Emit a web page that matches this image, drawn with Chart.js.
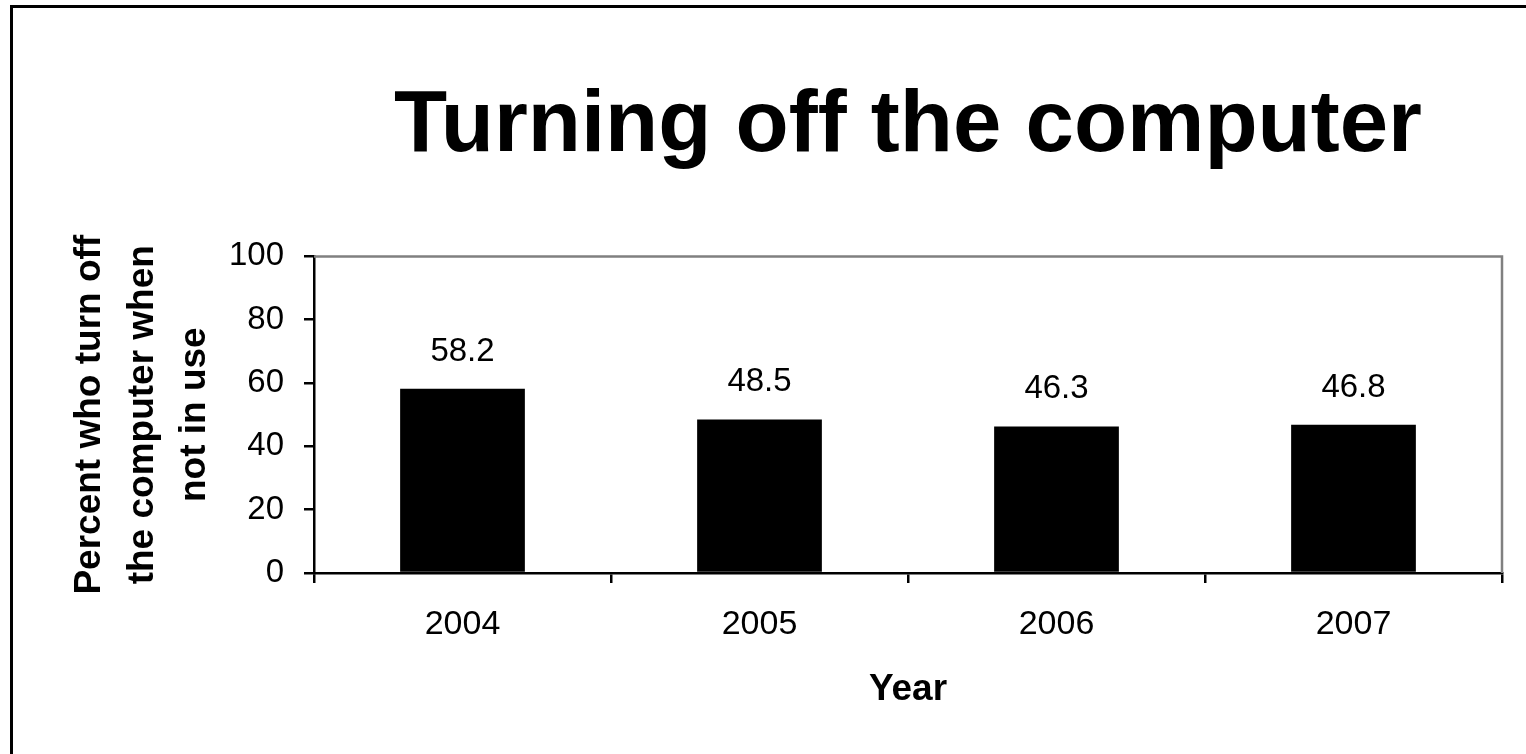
<!DOCTYPE html>
<html>
<head>
<meta charset="utf-8">
<script src="https://cdn.jsdelivr.net/npm/chart.js@4.4.1/dist/chart.umd.min.js"></script>
<style>
  html, body { margin: 0; padding: 0; background: #fff; overflow: hidden; }
  #wrap { position: relative; width: 1526px; height: 754px; overflow: hidden; }
  #frame { position: absolute; left: 10px; top: 5px; width: 1600px; height: 800px;
           border-left: 3px solid #000; border-top: 3px solid #000; pointer-events: none; }
  canvas { position: absolute; left: 0; top: 0; }
</style>
</head>
<body>
<div id="wrap">
  <canvas id="c" width="1526" height="754" style="width:1526px;height:754px"></canvas>
  <div id="frame"></div>
</div>
<script>
const titleText = 'Turning off the computer';
const years = ['2004', '2005', '2006', '2007'];
const percentOff = [58.2, 48.5, 46.3, 46.8];
const yTitleLines = ['Percent who turn off', 'the computer when', 'not in use'];
const xTitleText = 'Year';

const FONT = '"Liberation Sans", Arial, Helvetica, sans-serif';

const plotFrame = {
  id: 'plotFrame',
  afterDraw(chart) {
    const {ctx, chartArea: a} = chart;
    ctx.save();
    ctx.strokeStyle = '#808080';
    ctx.lineWidth = 2.5;
    ctx.beginPath();
    ctx.moveTo(a.left, a.top);
    ctx.lineTo(a.right, a.top);
    ctx.lineTo(a.right, a.bottom);
    ctx.stroke();
    ctx.restore();
  }
};

const valueLabels = {
  id: 'valueLabels',
  afterDatasetsDraw(chart) {
    const {ctx} = chart;
    const meta = chart.getDatasetMeta(0);
    ctx.save();
    ctx.fillStyle = '#000';
    ctx.font = '33px ' + FONT;
    ctx.textAlign = 'center';
    ctx.textBaseline = 'alphabetic';
    meta.data.forEach((bar, i) => {
      ctx.fillText(String(percentOff[i]), bar.x, bar.y - 28);
    });
    ctx.restore();
  }
};

Chart.defaults.color = '#000';
Chart.defaults.font.family = FONT;

new Chart(document.getElementById('c'), {
  type: 'bar',
  data: {
    labels: years,
    datasets: [{
      data: percentOff,
      backgroundColor: '#000',
      borderWidth: 0,
      barPercentage: 0.42,
      categoryPercentage: 1.0
    }]
  },
  options: {
    responsive: false,
    animation: false,
    devicePixelRatio: 1,
    layout: { padding: { left: 0, right: 24, top: 0, bottom: 0 } },
    plugins: {
      legend: { display: false },
      tooltip: { enabled: false },
      title: {
        display: true,
        text: titleText,
        fullSize: false,
        color: '#000',
        font: { size: 87, weight: 'bold', family: FONT, lineHeight: 1.2 },
        padding: { top: 75, bottom: 77 }
      }
    },
    scales: {
      x: {
        afterFit(scale) { scale.height = 181; },
        grid: {
          display: true,
          drawOnChartArea: false,
          drawTicks: true,
          tickLength: 10,
          color: '#000',
          lineWidth: 2.5,
          offset: true
        },
        border: { display: true, color: '#000', width: 2.5 },
        ticks: { font: { size: 34, family: FONT }, padding: 21, color: '#000' },
        title: {
          display: true,
          text: xTitleText,
          color: '#000',
          font: { size: 37, weight: 'bold', family: FONT, lineHeight: 1.2 },
          padding: { top: 0, bottom: 42 }
        }
      },
      y: {
        min: 0,
        max: 100,
        afterFit(scale) { scale.width = 314; },
        grid: {
          display: true,
          drawOnChartArea: false,
          drawTicks: true,
          tickLength: 10,
          color: '#000',
          lineWidth: 2.5
        },
        border: { display: true, color: '#000', width: 2.5 },
        ticks: { stepSize: 20, font: { size: 33, family: FONT }, padding: 20, color: '#000' },
        title: {
          display: true,
          text: yTitleLines,
          color: '#000',
          font: { size: 37, weight: 'bold', family: FONT, lineHeight: 1.43 },
          padding: { top: 63, bottom: 0 }
        }
      }
    }
  },
  plugins: [plotFrame, valueLabels]
});
</script>
</body>
</html>
